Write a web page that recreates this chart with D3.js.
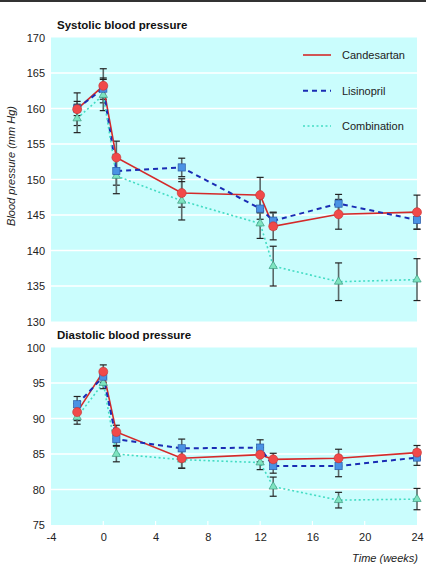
<!DOCTYPE html>
<html>
<head>
<meta charset="utf-8">
<script src="https://cdn.jsdelivr.net/npm/d3@7"></script>
<style>
  html, body { margin: 0; padding: 0; background: #fff; }
  svg { display: block; font-family: "Liberation Sans", Arial, sans-serif; }
</style>
</head>
<body>
<svg id="chart" width="426" height="568"></svg>
<script>
// ---- data ----
const weeks = [-2, 0, 1, 6, 12, 13, 18, 24];
const xTicks = [-4, 0, 4, 8, 12, 16, 20, 24];
const sysTicks = [130, 135, 140, 145, 150, 155, 160, 165, 170];
const diaTicks = [75, 80, 85, 90, 95, 100];
const seriesNames = ["Candesartan", "Lisinopril", "Combination"];

const sysCand    = [159.9, 163.2, 153.1, 148.1, 147.8, 143.4, 145.1, 145.4];
const sysCandErr = [2.3, 2.4, 2.3, 2.0, 2.5, 1.9, 2.1, 2.4];
const sysLis     = [160.0, 162.8, 151.2, 151.7, 145.9, 144.2, 146.6, 144.3];
const sysLisErr  = [1.0, 1.5, 2.0, 1.3, 1.5, 1.2, 1.3, 1.3];
const sysComb    = [158.6, 161.9, 150.5, 147.0, 143.8, 137.8, 135.6, 135.9];
const sysCombErr = [2.0, 2.2, 2.5, 2.7, 2.1, 2.8, 2.65, 2.95];

const diaCand    = [90.9, 96.6, 88.1, 84.4, 84.9, 84.25, 84.4, 85.2];
const diaCandErr = [1.2, 0.95, 0.95, 1.4, 1.0, 0.85, 1.27, 1.0];
const diaLis     = [92.0, 95.9, 87.1, 85.8, 85.9, 83.3, 83.3, 84.5];
const diaLisErr  = [1.1, 0.8, 0.9, 1.3, 1.1, 1.0, 1.5, 1.1];
const diaComb    = [90.2, 95.0, 85.0, 84.2, 83.8, 80.4, 78.5, 78.65];
const diaCombErr = [1.0, 0.8, 1.1, 1.2, 1.0, 1.35, 1.1, 1.5];

// ---- styles ----
const styles = {
  Candesartan: { line: "#d42a2a", width: 1.6, dash: null, fill: "#f04a4a", stroke: "#c83030", shape: "circle" },
  Lisinopril:  { line: "#1a2cb4", width: 2, dash: "5,4", fill: "#4a92e4", stroke: "#2a5aa8", shape: "square" },
  Combination: { line: "#44dcc4", width: 1.6, dash: "2,2.5", fill: "#7ee4c0", stroke: "#3a9a80", shape: "triangle" }
};

const svg = d3.select("#chart");
const x = d3.scaleLinear().domain([-4, 24]).range([51, 417]);

// top rule
svg.append("line").attr("x1", 0).attr("x2", 426).attr("y1", 1).attr("y2", 1)
  .attr("stroke", "#333").attr("stroke-width", 2);

function panel(title, titleY, y, ticks, data, showLegend, showXAxis) {
  const g = svg.append("g");
  const [y0, y1] = y.range();
  g.append("rect").attr("x", x(-4)).attr("width", x(24) - x(-4))
    .attr("y", y1).attr("height", y0 - y1).attr("fill", "#cafdfd");
  // gridlines
  g.selectAll(".grid").data(ticks.slice(1, -1)).join("line")
    .attr("x1", x(-4)).attr("x2", x(24))
    .attr("y1", d => y(d)).attr("y2", d => y(d))
    .attr("stroke", "#fff").attr("stroke-width", 1.5);
  // y axis
  const ya = d3.axisLeft(y).tickValues(ticks).tickFormat(d => String(d)).tickSize(0).tickPadding(6);
  const yg = g.append("g").attr("transform", `translate(${x(-4)},0)`).call(ya);
  yg.select(".domain").remove();
  yg.selectAll("text").attr("font-size", 11).attr("fill", "#222")
    .attr("font-family", "'Liberation Sans', Arial, sans-serif");
  // title
  g.append("text").attr("x", 57).attr("y", titleY).attr("font-size", 11.5)
    .attr("font-weight", "bold").attr("fill", "#111").text(title);

  if (showXAxis) {
    g.selectAll(".xt").data(xTicks.slice(1, -1)).join("line")
      .attr("x1", d => x(d)).attr("x2", d => x(d))
      .attr("y1", y0).attr("y2", y0 - 4).attr("stroke", "#fff").attr("stroke-width", 1.2);
    const xa = d3.axisBottom(x).tickValues(xTicks).tickFormat(d => String(d)).tickSize(0).tickPadding(8);
    const xg = g.append("g").attr("transform", `translate(0,${y0})`).call(xa);
    xg.select(".domain").remove();
    xg.selectAll("text").attr("font-size", 11).attr("fill", "#222")
      .attr("font-family", "'Liberation Sans', Arial, sans-serif");
  }

  // error bars
  data.forEach(s => {
    const eg = g.append("g");
    const pts = weeks.map((w, i) => ({ w, v: s.values[i], e: s.errs[i] }));
    eg.selectAll(".ev").data(pts).join("line")
      .attr("x1", d => x(d.w)).attr("x2", d => x(d.w))
      .attr("y1", d => y(d.v - d.e)).attr("y2", d => y(d.v + d.e))
      .attr("stroke", "#5a6868").attr("stroke-width", 1.6);
    [-1, 1].forEach(sgn => {
      eg.selectAll(".cap" + sgn).data(pts).join("line")
        .attr("x1", d => x(d.w) - 3.5).attr("x2", d => x(d.w) + 3.5)
        .attr("y1", d => y(d.v + sgn * d.e)).attr("y2", d => y(d.v + sgn * d.e))
        .attr("stroke", "#222").attr("stroke-width", 1.2);
    });
  });

  // lines
  data.forEach(s => {
    const st = styles[s.name];
    const line = d3.line().x((d, i) => x(weeks[i])).y(d => y(d));
    g.append("path").datum(s.values).attr("d", line)
      .attr("fill", "none").attr("stroke", st.line).attr("stroke-width", st.width)
      .attr("stroke-dasharray", st.dash);
  });

  // markers (combination, lisinopril, candesartan on top)
  data.slice().reverse().forEach(s => {
    const st = styles[s.name];
    const pts = weeks.map((w, i) => ({ w, v: s.values[i] }));
    const mg = g.append("g");
    if (st.shape === "circle") {
      mg.selectAll("circle").data(pts).join("circle")
        .attr("cx", d => x(d.w)).attr("cy", d => y(d.v)).attr("r", 4.5)
        .attr("fill", st.fill).attr("stroke", st.stroke).attr("stroke-width", 0.6);
    } else if (st.shape === "square") {
      mg.selectAll("rect").data(pts).join("rect")
        .attr("x", d => x(d.w) - 3.6).attr("y", d => y(d.v) - 3.6)
        .attr("width", 7.2).attr("height", 7.2)
        .attr("fill", st.fill).attr("stroke", st.stroke).attr("stroke-width", 0.7);
    } else {
      const tri = d3.symbol().type(d3.symbolTriangle).size(30);
      mg.selectAll("path").data(pts).join("path")
        .attr("transform", d => `translate(${x(d.w)},${y(d.v)})`)
        .attr("d", tri)
        .attr("fill", st.fill).attr("stroke", st.stroke).attr("stroke-width", 0.7);
    }
  });

  if (showLegend) {
    const ly = [55, 90.7, 126];
    seriesNames.forEach((n, i) => {
      const st = styles[n];
      g.append("line").attr("x1", 303).attr("x2", 331).attr("y1", ly[i]).attr("y2", ly[i])
        .attr("stroke", st.line).attr("stroke-width", st.width).attr("stroke-dasharray", st.dash);
      g.append("text").attr("x", 342).attr("y", ly[i]).attr("dy", "0.35em")
        .attr("font-size", 11).attr("fill", "#222").text(n);
    });
  }
}

const ySys = d3.scaleLinear().domain([130, 170]).range([321.5, 37.5]);
const yDia = d3.scaleLinear().domain([75, 100]).range([525, 347.5]);

panel("Systolic blood pressure", 29, ySys, sysTicks, [
  { name: "Candesartan", values: sysCand, errs: sysCandErr },
  { name: "Lisinopril", values: sysLis, errs: sysLisErr },
  { name: "Combination", values: sysComb, errs: sysCombErr }
], true, false);

panel("Diastolic blood pressure", 339, yDia, diaTicks, [
  { name: "Candesartan", values: diaCand, errs: diaCandErr },
  { name: "Lisinopril", values: diaLis, errs: diaLisErr },
  { name: "Combination", values: diaComb, errs: diaCombErr }
], false, true);

// axis titles
svg.append("text").attr("transform", "translate(15,166) rotate(-90)")
  .attr("text-anchor", "middle").attr("font-size", 11).attr("font-style", "italic")
  .attr("fill", "#222").text("Blood pressure (mm Hg)");
svg.append("text").attr("x", 418).attr("y", 562).attr("text-anchor", "end")
  .attr("font-size", 11).attr("font-style", "italic").attr("fill", "#222").text("Time (weeks)");
</script>
</body>
</html>
